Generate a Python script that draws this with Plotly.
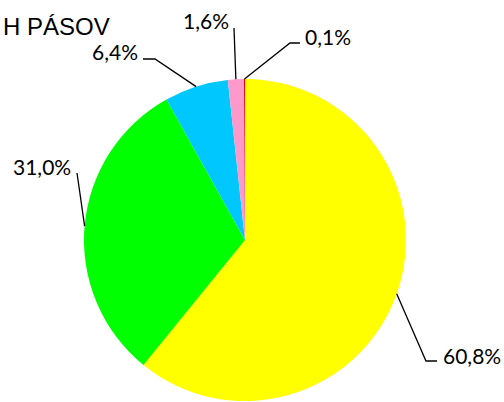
import math
import plotly.graph_objects as go

# ---- data ----
labels = ["A", "B", "C", "D", "E"]
values = [60.8, 31.0, 6.4, 1.6, 0.1]
label_texts = ["60,8%", "31,0%", "6,4%", "1,6%", "0,1%"]
colors = ["#FFFF00", "#00FF00", "#00C8FF", "#FF99CC", "#FF0000"]
title_text = "H PÁSOV"

# ---- layout / styling ----
W, H = 504, 402
cx, cy, R = 245, 240, 161  # pie centre/radius in px
# per-slice leader styling: (elbow px, end px, text px, xanchor)
leader_style = [
    ((426, 361), (437, 361), (441, 355), "left"),
    (None, (77, 173), (73, 166), "right"),
    ((155, 59), (143, 59), (140, 51), "right"),
    (None, (234, 28), (231, 20), "right"),
    ((290, 43), (300, 43), (303, 37), "left"),
]

def px(x):
    return x / W

def py(y):
    return 1 - y / H

fig = go.Figure(go.Pie(
    labels=labels, values=values, sort=False, direction="clockwise", rotation=0,
    marker=dict(colors=colors, line=dict(width=0)),
    textinfo="none", hoverinfo="none", showlegend=False,
    domain=dict(x=[px(cx - R), px(cx + R)], y=[py(cy + R), py(cy - R)]),
))

shapes, annotations = [], []
total = sum(values)
cum = 0
for v, txt, (elbow, end, tpos, xa) in zip(values, label_texts, leader_style):
    mid = (cum + v / 2) / total * 2 * math.pi
    cum += v
    sx = cx + R * math.sin(mid)
    sy = cy - R * math.cos(mid)
    pts = [(sx, sy)] + ([elbow] if elbow else []) + [end]
    path = "M " + " L ".join(f"{px(x):.4f},{py(y):.4f}" for x, y in pts)
    shapes.append(dict(type="path", xref="paper", yref="paper", path=path,
                       line=dict(color="black", width=1.3)))
    annotations.append(dict(text=txt, x=px(tpos[0]), y=py(tpos[1]), xref="paper", yref="paper",
                            xanchor=xa, yanchor="middle", showarrow=False,
                            font=dict(family="Lato", size=21, color="black")))

annotations.append(dict(text=title_text, x=px(1), y=py(27), xref="paper", yref="paper",
                        xanchor="left", yanchor="middle", showarrow=False,
                        font=dict(family="Liberation Sans", size=24, color="black")))

fig.update_layout(width=W, height=H, margin=dict(l=0, r=0, t=0, b=0),
                  paper_bgcolor="white", plot_bgcolor="white",
                  shapes=shapes, annotations=annotations)
fig.write_html("out.html", config={"displayModeBar": False},
               post_script="document.body.style.margin='0';document.body.style.overflow='hidden';")
